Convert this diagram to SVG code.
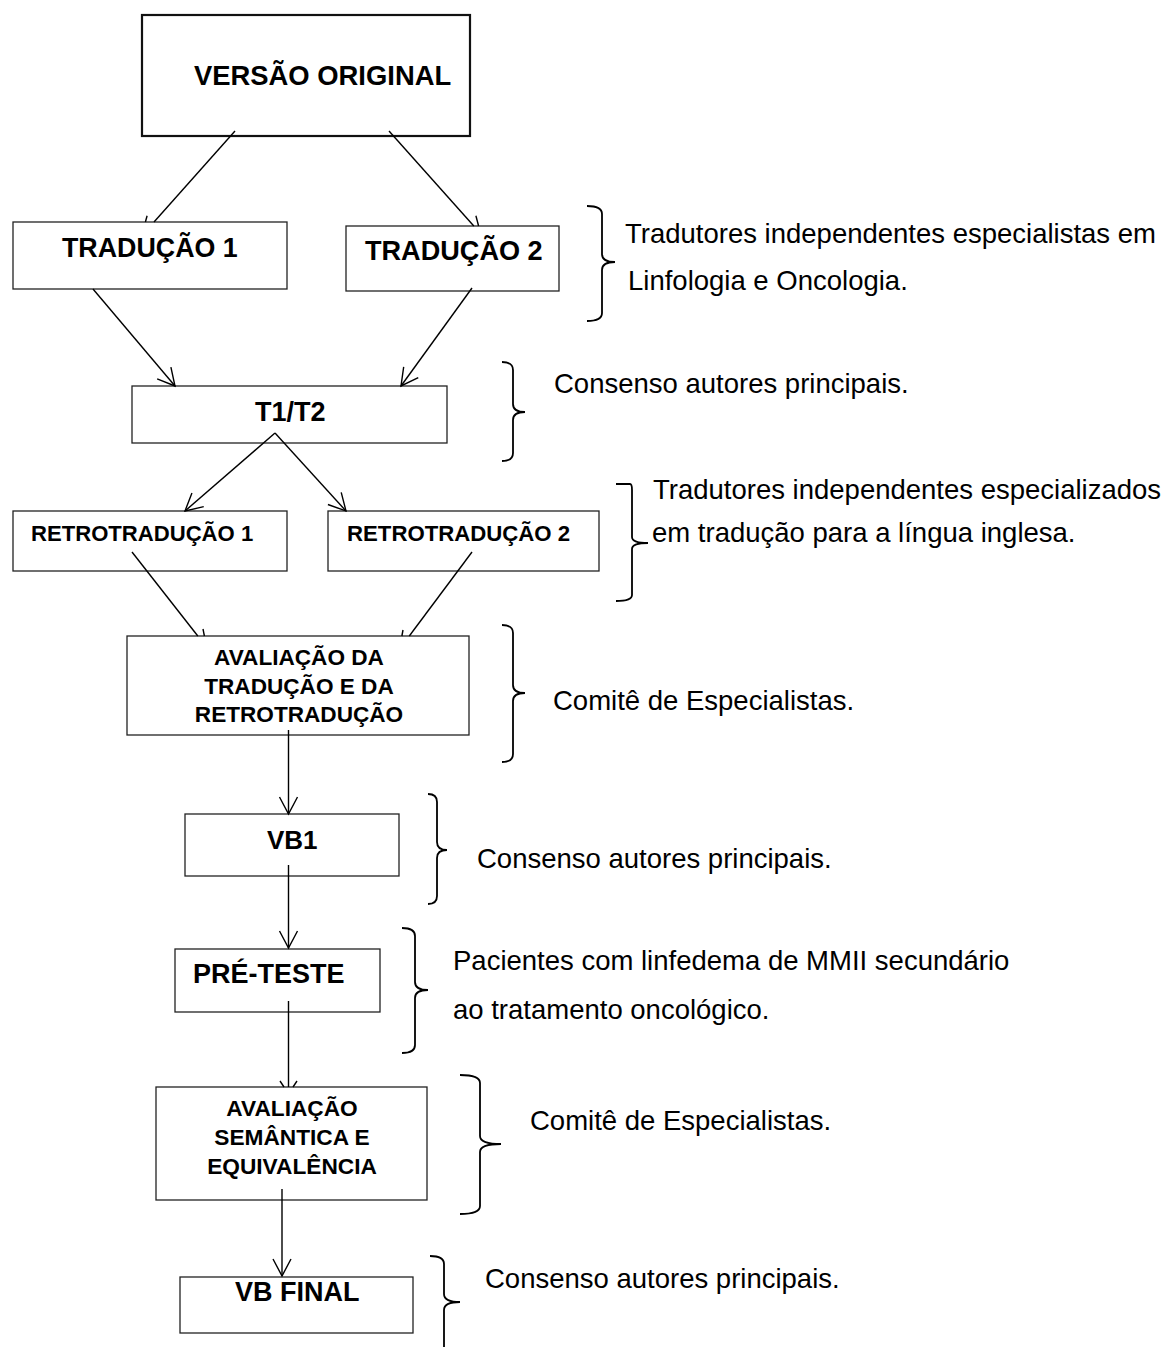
<svg xmlns="http://www.w3.org/2000/svg" width="1168" height="1347" viewBox="0 0 1168 1347">
<style>
.box{fill:#fff;stroke:#222;stroke-width:1.3}
.box2{fill:#fff;stroke:#111;stroke-width:2.2}
.lbl{font-family:"Liberation Sans",Arial,sans-serif;font-weight:bold;fill:#000}
.note{font-family:"Liberation Sans",Arial,sans-serif;font-size:27.5px;fill:#000}
.conn{fill:none;stroke:#000;stroke-width:1.4}
.brace{fill:none;stroke:#000;stroke-width:1.8}
</style>
<defs>
<marker id="ah" markerUnits="userSpaceOnUse" markerWidth="24" markerHeight="24" viewBox="-20 -12 24 24" refX="0" refY="0" orient="auto" overflow="visible">
<path d="M-17,-9 L0,0 L-17,9" fill="none" stroke="#000" stroke-width="1.4"/>
</marker>
</defs>
<rect width="1168" height="1347" fill="#fff"/>
<g id="versao-original"><rect class="box2" x="142" y="15" width="328" height="121"/><text class="lbl" x="194" y="85" font-size="27.4">VERSÃO ORIGINAL</text></g>
<g id="traducao-1"><rect class="box" x="13" y="222" width="274" height="67"/><text class="lbl" x="62" y="257" font-size="26.8">TRADUÇÃO 1</text></g>
<g id="traducao-2"><rect class="box" x="346" y="226" width="213" height="65"/><text class="lbl" x="365" y="260" font-size="27.1">TRADUÇÃO 2</text></g>
<g id="t1t2"><rect class="box" x="132" y="386" width="315" height="57"/><text class="lbl" x="255" y="421" font-size="27">T1/T2</text></g>
<g id="retro-1"><rect class="box" x="13" y="511" width="274" height="60"/><text class="lbl" x="31" y="541" font-size="22.1">RETROTRADUÇÃO 1</text></g>
<g id="retro-2"><rect class="box" x="328" y="511" width="271" height="60"/><text class="lbl" x="347" y="541" font-size="22.2">RETROTRADUÇÃO 2</text></g>
<g id="avaliacao-traducao"><rect class="box" x="127" y="636" width="342" height="99"/><text class="lbl" x="299" y="665" font-size="22.6" text-anchor="middle">AVALIAÇÃO DA</text><text class="lbl" x="299" y="694" font-size="22.6" text-anchor="middle">TRADUÇÃO E DA</text><text class="lbl" x="299" y="722" font-size="22.6" text-anchor="middle">RETROTRADUÇÃO</text></g>
<g id="vb1"><rect class="box" x="185" y="814" width="214" height="62"/><text class="lbl" x="267" y="849" font-size="26">VB1</text></g>
<g id="pre-teste"><rect class="box" x="175" y="949" width="205" height="63"/><text class="lbl" x="193" y="983" font-size="27">PRÉ-TESTE</text></g>
<g id="avaliacao-semantica"><rect class="box" x="156" y="1087" width="271" height="113"/><text class="lbl" x="292" y="1116" font-size="22.7" text-anchor="middle">AVALIAÇÃO</text><text class="lbl" x="292" y="1145" font-size="22.7" text-anchor="middle">SEMÂNTICA E</text><text class="lbl" x="292" y="1174" font-size="22.7" text-anchor="middle">EQUIVALÊNCIA</text></g>
<g id="vb-final"><rect class="box" x="180" y="1277" width="233" height="56"/><text class="lbl" x="235" y="1301" font-size="27">VB FINAL</text></g>
<g id="connectors">
<path class="conn" d="M235,131 L154,222"/><path class="conn" d="M145.4,222 L147.1,215.7"/>
<path class="conn" d="M389,131 L473.8,226"/><path class="conn" d="M478.6,226 L475.9,215.7"/>
<path class="conn" d="M93,289 L175,386" marker-end="url(#ah)"/>
<path class="conn" d="M472,288 L401,386" marker-end="url(#ah)"/>
<path class="conn" d="M275,433 L185,511" marker-end="url(#ah)"/>
<path class="conn" d="M275,433 L346,511" marker-end="url(#ah)"/>
<path class="conn" d="M132,552 L197.8,636"/><path class="conn" d="M203,629 L204.4,636"/>
<path class="conn" d="M472,552 L409.3,636"/><path class="conn" d="M403,630 L401.9,636"/>
<path class="conn" d="M288.5,730 L288.5,814" marker-end="url(#ah)"/>
<path class="conn" d="M288.5,865 L288.5,948" marker-end="url(#ah)"/>
<path class="conn" d="M288.5,1001 L288.5,1087"/><path class="conn" d="M280,1081 L284,1087 M297,1081 L293,1087"/>
<path class="conn" d="M282,1189 L282,1276" marker-end="url(#ah)"/>
</g>
<g id="annotations">
<path class="brace" d="M587,206 Q602,206 602,214 L602,254 Q602,262 615,262 Q602,262 602,270 L602,313 Q602,321 587,321"/>
<text class="note" x="625" y="243">Tradutores independentes especialistas em</text>
<text class="note" x="628" y="290">Linfologia e Oncologia.</text>
<path class="brace" d="M502,362 Q513,362 513,370 L513,404 Q513,412 525,412 Q513,412 513,420 L513,453 Q513,461 502,461"/>
<text class="note" x="554" y="393">Consenso autores principais.</text>
<path class="brace" d="M616,484 L630,484 Q632,484 632,490 L632,537 Q632,543 648,543 Q632,543 632,549 L632,595 Q632,601 616,601"/>
<text class="note" x="653" y="499">Tradutores independentes especializados</text>
<text class="note" x="652" y="542">em tradução para a língua inglesa.</text>
<path class="brace" d="M502,625 Q513,625 513,633 L513,685 Q513,693 525,693 Q513,693 513,701 L513,754 Q513,762 502,762"/>
<text class="note" x="553" y="710">Comitê de Especialistas.</text>
<path class="brace" d="M428,794 Q437,794 437,802 L437,842 Q437,850 447,850 Q437,850 437,858 L437,896 Q437,904 428,904"/>
<text class="note" x="477" y="868">Consenso autores principais.</text>
<path class="brace" d="M402,928 Q415,928 415,936 L415,982 Q415,990 428,990 Q415,990 415,998 L415,1045 Q415,1053 402,1053"/>
<text class="note" x="453" y="970">Pacientes com linfedema de MMII secundário</text>
<text class="note" x="453" y="1019">ao tratamento oncológico.</text>
<path class="brace" d="M460,1075 Q480,1075 480,1083 L480,1136 Q480,1144 501,1144 Q480,1144 480,1152 L480,1206 Q480,1214 460,1214"/>
<text class="note" x="530" y="1130">Comitê de Especialistas.</text>
<path class="brace" d="M430,1256 Q444,1256 444,1264 L444,1294 Q444,1302 460,1302 Q444,1302 444,1310 L444,1350"/>
<text class="note" x="485" y="1288">Consenso autores principais.</text>
</g>
</svg>
